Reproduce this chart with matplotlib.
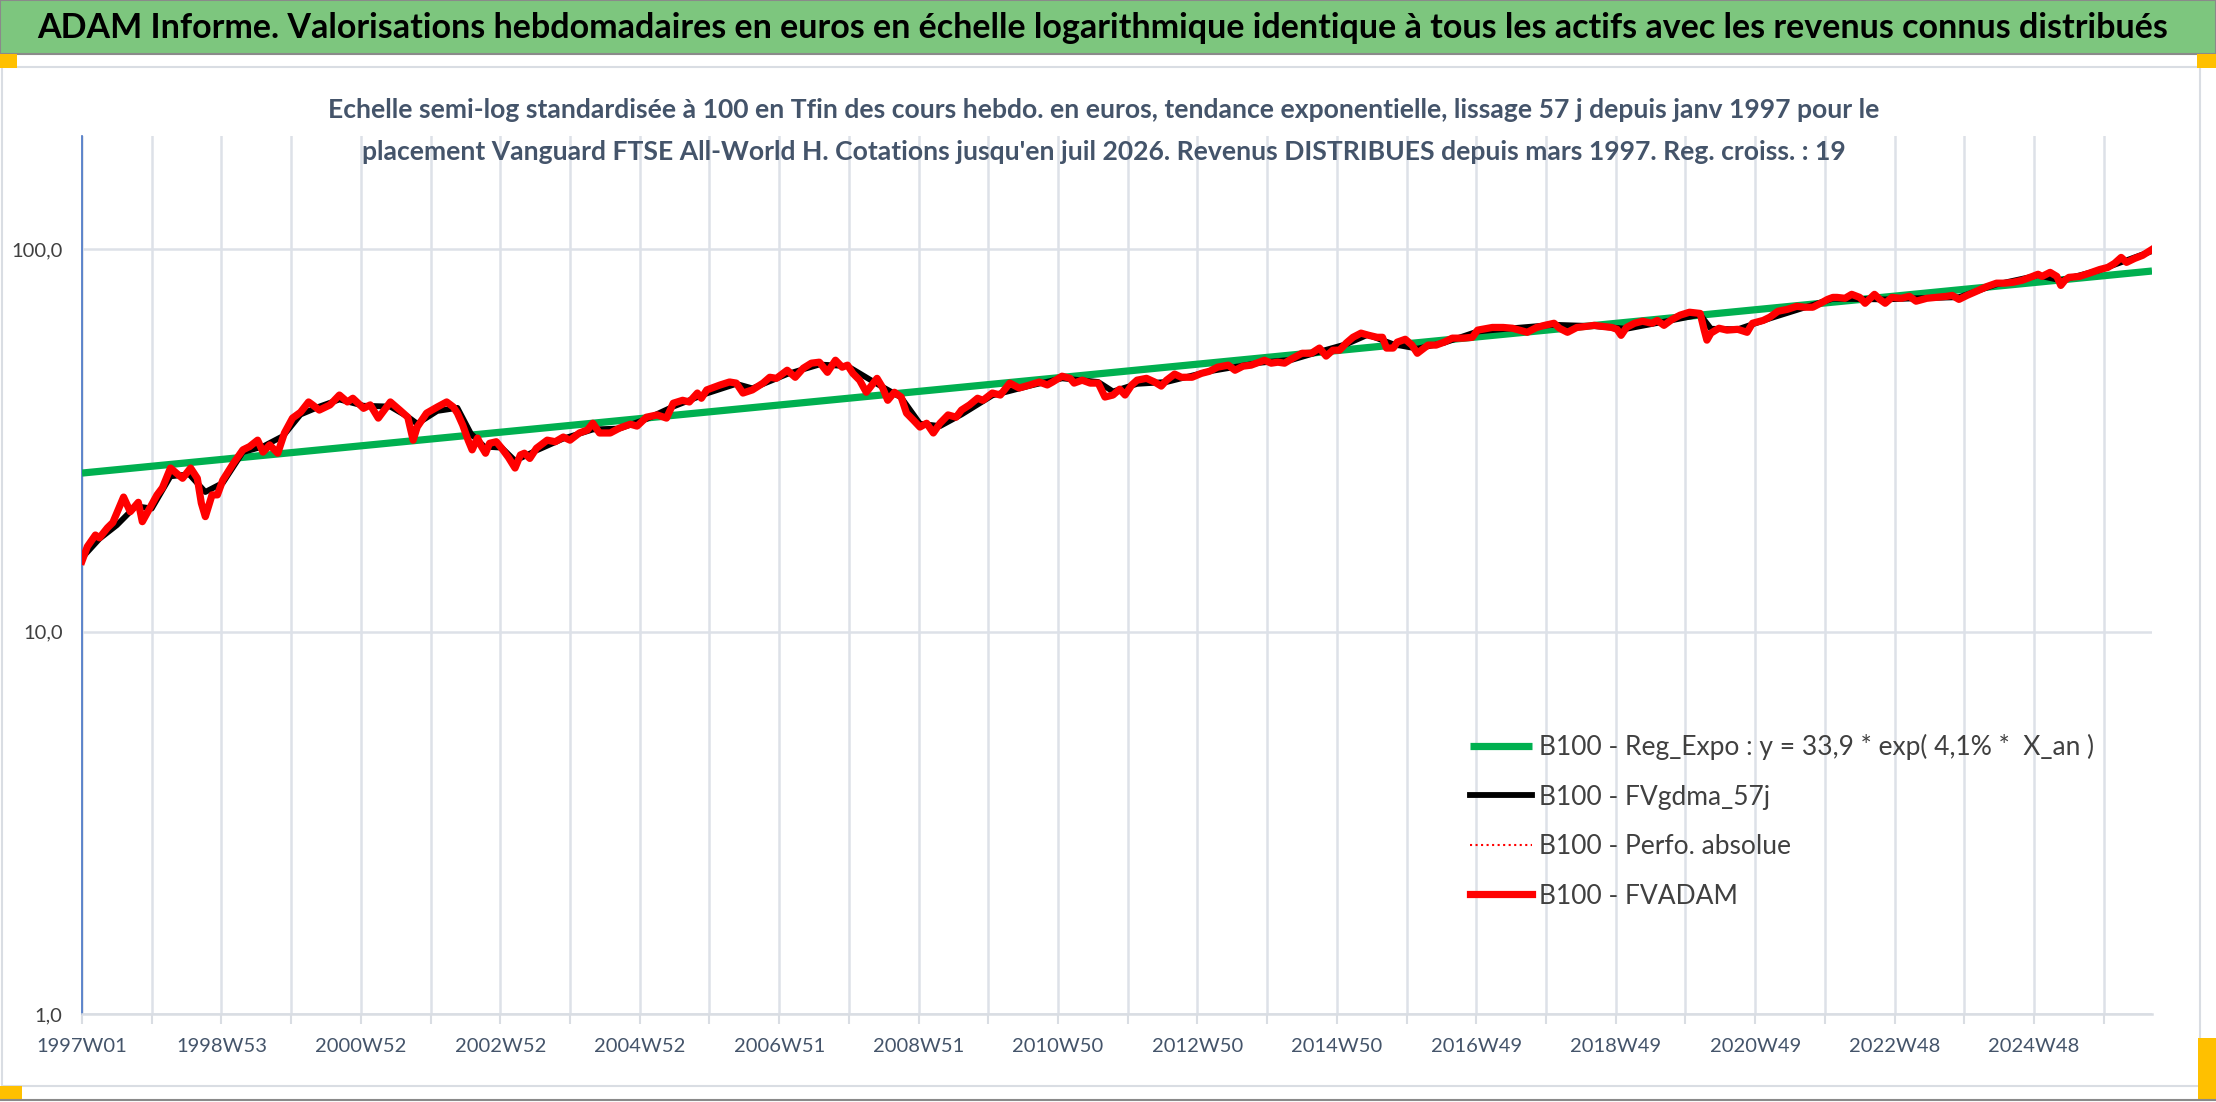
import matplotlib
matplotlib.use("Agg")
import matplotlib.pyplot as plt
from matplotlib import font_manager
from matplotlib.lines import Line2D
from matplotlib.patches import Rectangle

#########################################
# 1. Data (week index since 1997W01, B100 values)
#########################################

red_week = [0, 4, 10, 13, 19, 23, 31, 36, 42, 45, 52, 56, 60, 66, 72, 75, 81, 86, 89, 92,
            97, 101, 105, 113, 120, 125, 131, 135, 140, 146, 151, 157, 163, 169, 172, 177, 185, 192, 198, 202,
            210, 215, 221, 230, 237, 243, 247, 250, 257, 265,
            272, 277, 280, 284, 288, 291, 295, 298, 301, 304, 309, 313, 318, 323, 327, 330, 334, 339, 347, 353,
            359, 364, 371, 377, 381, 386, 394, 401, 409, 414, 421, 429, 436, 441, 448, 453, 459, 462, 466, 476,
            483, 488, 493, 500, 508, 513, 518, 526,
            532, 538, 544, 550, 556, 562, 567, 571, 575, 580, 585, 593, 597, 601, 606, 611, 615, 620, 625, 630,
            635, 640, 646, 652, 656, 662, 668, 672, 679, 685, 692, 699, 707, 714, 720, 724, 731, 737, 740, 746,
            752, 758, 763, 769, 774, 778, 783, 787,
            794, 800, 805, 809, 815, 820, 828, 835, 841, 847, 855, 860, 866, 872, 878, 882, 887, 892, 897, 903,
            910, 917, 923, 928, 933, 938, 943, 948, 954, 959, 966, 970, 973, 978, 981, 987, 992, 996, 999, 1004,
            1010, 1016, 1022, 1030, 1037, 1041,
            1052, 1060, 1067, 1078, 1085, 1091, 1098, 1102, 1108, 1115, 1122, 1128, 1134, 1141, 1145, 1148, 1152, 1158, 1164, 1171,
            1175, 1180, 1186, 1192, 1199, 1207, 1210, 1212, 1215, 1221, 1227, 1235, 1242, 1246, 1254, 1259, 1265, 1272, 1279, 1285,
            1291, 1298, 1302, 1306,
            1309, 1315, 1320, 1326, 1330, 1337, 1341, 1345, 1350, 1357, 1363, 1368, 1376, 1383, 1391, 1395, 1400, 1406, 1413, 1421,
            1428, 1434, 1440, 1447, 1453, 1459, 1462, 1468, 1473, 1476, 1479, 1482, 1490, 1497, 1505, 1511, 1516, 1521, 1525, 1531,
            1537, 1544]

red_vals = [15.3, 16.7, 17.9, 17.6, 18.7, 19.3, 22.5, 20.6, 21.8, 19.4, 21.5, 22.8, 23.8, 26.8, 25.7, 25.2, 26.8, 25.2, 21.7, 20.0,
            22.8, 22.8, 24.9, 27.6, 29.9, 30.5, 31.7, 29.5, 30.8, 29.3, 33.1, 36.2, 37.5, 39.9, 39.2, 38.0, 39.2, 41.6, 39.9, 40.8,
            38.4, 39.2, 36.2, 39.9, 38.0, 36.4, 31.7, 34.3, 37.3, 38.7,
            39.9, 38.7, 37.3, 34.7, 31.7, 29.9, 32.1, 30.5, 29.3, 31.1, 31.4, 30.2, 28.6, 26.8, 29.0, 29.3, 28.4, 30.2, 31.7, 31.4,
            32.3, 31.7, 33.1, 33.7, 35.1, 33.1, 33.1, 34.1, 34.9, 34.5, 36.4, 36.9, 36.2, 39.6, 40.3, 39.9, 42.1, 40.8, 42.9, 44.2,
            45.0, 44.7, 42.1, 42.9, 44.7, 46.3, 46.0, 48.3,
            46.3, 48.9, 50.4, 50.7, 47.7, 51.3, 49.2, 49.8, 47.4, 45.5, 42.3, 46.0, 43.6, 40.3, 42.3, 41.1, 37.3, 35.8, 34.3, 35.1,
            33.1, 35.1, 36.9, 36.4, 38.0, 39.2, 40.8, 40.3, 42.1, 41.6, 44.7, 43.4, 44.2, 45.0, 44.2, 45.0, 46.6, 46.0, 44.7, 45.5,
            44.7, 44.7, 41.1, 41.6, 43.1, 41.6, 44.2, 45.5,
            46.0, 45.0, 43.9, 45.5, 47.2, 46.3, 46.3, 47.4, 48.0, 49.2, 49.8, 48.3, 49.5, 49.8, 50.7, 51.3, 50.4, 50.7, 50.4, 51.9,
            53.5, 53.5, 55.2, 52.6, 54.5, 54.5, 56.9, 58.9, 60.4, 59.7, 58.9, 58.9, 55.2, 55.2, 57.2, 58.2, 56.2, 53.5, 54.5, 56.2,
            56.2, 57.2, 58.6, 58.6, 58.9, 61.5,
            62.5, 62.5, 62.2, 60.7, 62.5, 63.3, 64.1, 62.2, 60.7, 62.5, 62.9, 63.3, 62.9, 62.5, 61.8, 59.6, 62.5, 64.1, 64.9, 64.1,
            65.2, 63.3, 65.6, 67.3, 68.5, 68.0, 61.5, 57.9, 60.4, 62.2, 61.5, 61.8, 60.7, 64.1, 65.2, 66.5, 68.9, 69.7, 71.0, 70.6,
            70.6, 72.7, 74.0, 74.9,
            74.9, 74.5, 76.3, 74.9, 72.3, 76.3, 74.0, 72.3, 74.9, 74.5, 75.4, 73.2, 74.5, 74.9, 75.4, 75.8, 74.0, 75.8, 77.7, 80.0,
            81.6, 81.6, 82.0, 83.0, 84.5, 86.1, 85.0, 87.1, 85.0, 80.5, 83.0, 84.5, 85.0, 86.6, 88.6, 89.7, 91.9, 95.3, 92.5, 94.7,
            96.5, 100.0]

# smoothed 57 days series (mostly hidden under the red line)
black_week = [0, 13, 26, 40, 52, 66, 80, 92, 105, 120, 135, 150, 163, 177, 192, 210, 230, 243, 250, 265,
              280, 290, 300, 313, 323, 339, 359, 381, 401, 421, 441, 466, 488, 500, 526, 550, 571, 593, 611, 625,
              640, 656, 679, 707, 731, 758, 769, 787, 809, 841, 878, 903, 923, 943, 959, 978, 996, 1016, 1041, 1067,
              1098, 1128, 1152, 1186, 1207, 1215, 1235, 1259, 1285, 1306, 1345, 1368, 1400, 1428, 1459, 1476, 1505, 1544]
black_vals = [15.6, 17.5, 19.0, 21.3, 21.0, 25.5, 25.8, 23.2, 24.5, 29.5, 30.5, 32.5, 37.0, 38.8, 40.5, 39.0, 38.8, 36.5, 35.0, 37.8,
              38.5, 33.0, 30.5, 30.3, 28.0, 29.8, 32.0, 33.8, 34.0, 36.0, 38.8, 42.0, 44.5, 43.3, 47.2, 50.0, 49.5, 44.5, 41.0, 35.0,
              34.5, 37.0, 41.5, 44.0, 46.0, 45.0, 42.5, 44.5, 45.0, 48.0, 50.5, 51.5, 54.0, 56.5, 59.8, 56.5, 55.0, 57.0, 61.0, 62.2,
              63.5, 63.0, 62.0, 65.3, 67.5, 62.0, 61.8, 66.0, 70.5, 74.3, 74.0, 74.5, 75.0, 81.0, 85.5, 83.0, 88.3, 99.0]

# exponential regression line: end points of the trend
reg_week = [0, 1544]
reg_vals = [26.0, 87.8]

n_weeks = 1545
tick_step = 52
x_labels = ["1997W01", "1998W53", "2000W52", "2002W52", "2004W52", "2006W51", "2008W51", "2010W50",
            "2012W50", "2014W50", "2016W49", "2018W49", "2020W49", "2022W48", "2024W48"]
y_ticks = [1, 10, 100]
y_labels = ["1,0", "10,0", "100,0"]

legend_labels = ["B100 - Reg_Expo : y = 33,9 * exp( 4,1% *  X_an )",
                 "B100 - FVgdma_57j",
                 "B100 - Perfo. absolue",
                 "B100 - FVADAM"]

title = ("ADAM Informe. Valorisations hebdomadaires en euros en échelle logarithmique identique "
         "à tous les actifs avec les revenus connus distribués")
sub1 = ("Echelle semi-log standardisée à 100 en Tfin des cours hebdo. en euros, tendance exponentielle, "
        "lissage 57 j depuis janv 1997 pour le")
sub2 = ("placement Vanguard FTSE All-World H. Cotations jusqu'en juil 2026. Revenus DISTRIBUES "
        "depuis mars 1997. Reg. croiss. : 19")

#########################################
# 2. Fonts
#########################################

names = {f.name for f in font_manager.fontManager.ttflist}
font = "DejaVu Sans"
for cand in ["Lato", "Open Sans", "Liberation Sans"]:
    if cand in names:
        font = cand
        break
plt.rcParams["font.family"] = [font, "DejaVu Sans"]

#########################################
# 3. Figure
#########################################

W, H = 2216, 1102
fig = plt.figure(figsize=(W / 100, H / 100), dpi=100)


def fx(px):
    return px / W


def fy(py):
    return 1 - py / H


# header bar and frame decorations
fig.patches.append(Rectangle((0, fy(54)), 1, 54 / H, transform=fig.transFigure,
                             facecolor="#7dc67e", edgecolor="#8a8a8a", lw=1.5))
fig.patches.append(Rectangle((fx(2), fy(1086)), fx(2198), (1086 - 67) / H, transform=fig.transFigure,
                             facecolor="none", edgecolor="#d9dde3", lw=1.5))
for (x0, y0, x1, y1) in [(0, 54, 17, 68), (2197, 54, 2216, 68), (0, 1086, 22, 1100), (2198, 1038, 2216, 1100)]:
    fig.patches.append(Rectangle((fx(x0), fy(y1)), (x1 - x0) / W, (y1 - y0) / H,
                                 transform=fig.transFigure, facecolor="#ffc000", edgecolor="none"))
fig.add_artist(Line2D([0, 1], [fy(1100), fy(1100)], transform=fig.transFigure, color="#8a8a8a", lw=1.5))

ax = fig.add_axes([fx(82), fy(1014), fx(2152 - 82), (1014 - 136) / H])
ax.set_facecolor("none")

ax.plot(reg_week, reg_vals, color="#00b050", lw=5.2, solid_capstyle="butt", label=legend_labels[0], zorder=3)
ax.plot(black_week, black_vals, color="black", lw=4.2, label=legend_labels[1], zorder=4)
ax.plot(red_week, red_vals, color="red", lw=1.5, ls=":", label=legend_labels[2], zorder=5)
ax.plot(red_week, red_vals, color="red", lw=5.2, solid_joinstyle="round", label=legend_labels[3], zorder=6)

ax.set_yscale("log")
ax.set_ylim(1, 198)
ax.set_xlim(0, n_weeks - 1)
ax.set_yticks(y_ticks)
ax.set_yticklabels(y_labels)
ax.yaxis.set_minor_locator(matplotlib.ticker.NullLocator())

xt = list(range(0, n_weeks, tick_step))
ax.set_xticks(xt)
ax.set_xticklabels([x_labels[i // 2] if i % 2 == 0 and i // 2 < len(x_labels) else "" for i in range(len(xt))])

ax.grid(True, which="major", color="#dde1e8", lw=1.8, zorder=0)
ax.set_axisbelow(True)
for s in ["top", "right"]:
    ax.spines[s].set_visible(False)
ax.spines["left"].set_color("#4472c4")
ax.spines["left"].set_linewidth(1.2)
ax.spines["bottom"].set_color("#d9dde3")
ax.spines["bottom"].set_linewidth(1.8)
ax.tick_params(axis="y", length=0, pad=14, labelsize=14.5, labelcolor="#404040")
ax.tick_params(axis="x", length=7, width=1.5, color="#d9dde3", pad=10, labelsize=14.5, labelcolor="#44546a")

leg = ax.legend(loc="upper left", bbox_to_anchor=(fx(1470), fy(734)), bbox_transform=fig.transFigure,
                frameon=False, fontsize=19, handlelength=2.35, handletextpad=0.25, labelspacing=0.93,
                borderpad=0, borderaxespad=0)
for t in leg.get_texts():
    t.set_color("#404040")

#########################################
# 4. Titles, fitted to the widths of the reference
#########################################

t_title = fig.text(fx(37), fy(28), title, ha="left", va="center", fontsize=24, fontweight="bold", color="black")
t_sub1 = fig.text(fx(1104), fy(110), sub1, ha="center", va="center", fontsize=18, fontweight="bold", color="#44546a")
t_sub2 = fig.text(fx(1104), fy(152), sub2, ha="center", va="center", fontsize=18, fontweight="bold", color="#44546a")

fig.canvas.draw()
r = fig.canvas.get_renderer()
w = t_title.get_window_extent(r).width
t_title.set_fontsize(24 * 2132 / w)
w = t_sub1.get_window_extent(r).width
s = 18 * 1552 / w
t_sub1.set_fontsize(s)
t_sub2.set_fontsize(s)

fig.savefig("out.png", dpi=100)
print("font used:", font)
